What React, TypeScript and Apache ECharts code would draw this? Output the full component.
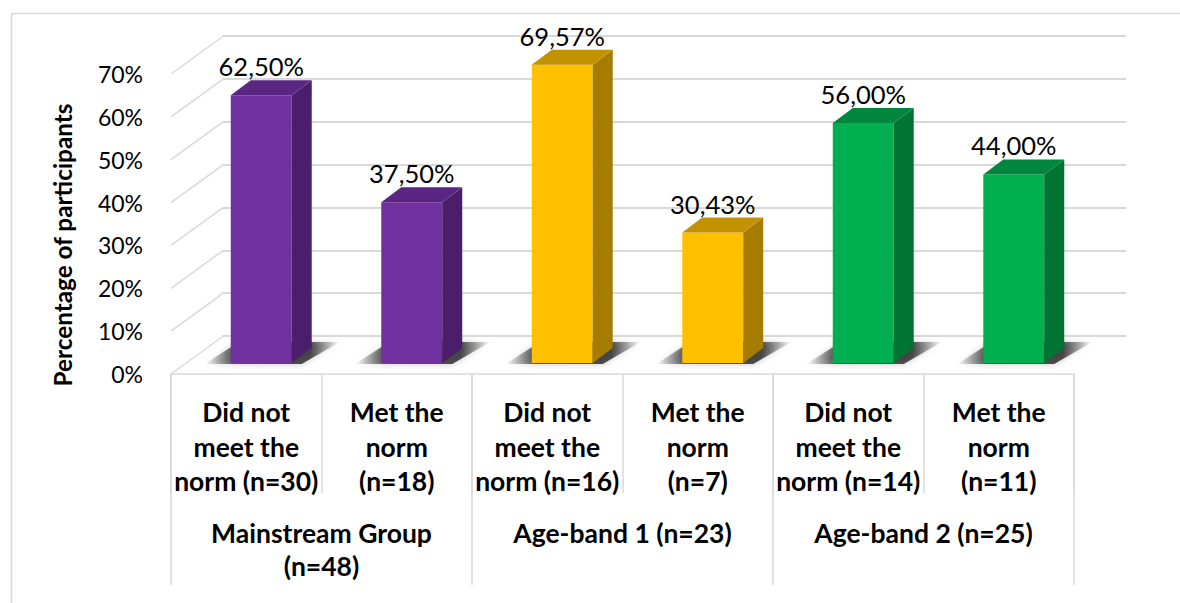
import React, { useEffect, useRef } from "react";
import * as echarts from "echarts";

// ---- data ----
const subCategories = [
  "Did not\nmeet the\nnorm (n=30)",
  "Met the\nnorm\n(n=18)",
  "Did not\nmeet the\nnorm (n=16)",
  "Met the\nnorm\n(n=7)",
  "Did not\nmeet the\nnorm (n=14)",
  "Met the\nnorm\n(n=11)",
];
const groups = ["Mainstream Group\n(n=48)", "Age-band 1 (n=23)", "Age-band 2 (n=25)"];
const percentages = [62.5, 37.5, 69.57, 30.43, 56.0, 44.0];
const groupOfBar = [0, 0, 1, 1, 2, 2];
const axisMax = 70;
const axisStep = 10;
const tickValues = [0, 10, 20, 30, 40, 50, 60, 70];
const yTitle = "Percentage of participants";

// ---- styling ----
const FONT = "Lato, 'Noto Sans', sans-serif";
const GRID_LINE = "#d9d9d9";
const palette = [
  { front: "#7030a0", side: "#4b1e6b", top: "#5b2683" },
  { front: "#ffc000", side: "#a67c00", top: "#c29200" },
  { front: "#00b050", side: "#007533", top: "#00863d" },
];
// offset from the front edge of the floor to the back wall
const WALL_DX = 51;
const WALL_DY = -37;
// depth of each bar
const BAR_DX = 20;
const BAR_DY = -15;
const BAR_RATIO = 0.405;

const fmt = (v: number) => v.toFixed(2).replace(".", ",") + "%";

export default function App() {
  const ref = useRef<HTMLDivElement>(null);

  useEffect(() => {
    if (!ref.current) return;
    const chart = echarts.init(ref.current, undefined, { renderer: "svg" });

    const option: any = {
      animation: false,
      backgroundColor: "#ffffff",
      grid: [
        // back wall
        { left: 222, top: 36, width: 904, height: 300 },
        // front edge of the floor (axis labels, category boxes)
        { left: 171, top: 74, width: 903, height: 300 },
        // plane of the bars' front faces
        { left: 186, top: 63, width: 903, height: 300 },
      ],
      xAxis: [
        { gridIndex: 0, type: "category", data: subCategories, show: false },
        {
          gridIndex: 1,
          type: "category",
          data: subCategories,
          position: "bottom",
          axisLine: { show: true, lineStyle: { color: GRID_LINE, width: 1.5 } },
          axisTick: {
            show: true,
            interval: 0,
            alignWithLabel: false,
            length: 119,
            lineStyle: { color: GRID_LINE, width: 1.5 },
          },
          axisLabel: {
            interval: 0,
            margin: 21,
            fontFamily: FONT,
            fontSize: 26.5,
            fontWeight: "bold",
            lineHeight: 34.5,
            color: "#000000",
          },
        },
        {
          gridIndex: 1,
          type: "category",
          data: groups,
          position: "bottom",
          axisLine: { show: false },
          axisTick: {
            show: true,
            interval: 0,
            alignWithLabel: false,
            length: 211,
            lineStyle: { color: GRID_LINE, width: 1.5 },
          },
          axisLabel: {
            interval: 0,
            margin: 142,
            fontFamily: FONT,
            fontSize: 26.5,
            fontWeight: "bold",
            lineHeight: 33,
            color: "#000000",
          },
        },
        { gridIndex: 2, type: "category", data: subCategories, show: false },
      ],
      yAxis: [
        {
          gridIndex: 0,
          type: "value",
          min: 0,
          max: axisMax,
          interval: axisStep,
          axisLine: { show: false },
          axisTick: { show: false },
          axisLabel: { show: false },
          splitLine: { show: true, lineStyle: { color: GRID_LINE, width: 2 } },
        },
        {
          gridIndex: 1,
          type: "value",
          min: 0,
          max: axisMax,
          interval: axisStep,
          axisLine: { show: false },
          axisTick: { show: false },
          splitLine: { show: false },
          axisLabel: {
            margin: 28,
            formatter: "{value}%",
            fontFamily: FONT,
            fontSize: 23,
            color: "#000000",
          },
        },
        {
          gridIndex: 2,
          type: "value",
          min: 0,
          max: axisMax,
          interval: axisStep,
          show: false,
        },
      ],
      graphic: [
        {
          type: "rect",
          shape: { x: 11.5, y: 13.5, width: 1300, height: 700 },
          style: { fill: "none", stroke: GRID_LINE, lineWidth: 1.5 },
          silent: true,
          z: -10,
        },
        {
          type: "text",
          x: 62,
          y: 245,
          rotation: Math.PI / 2,
          style: {
            text: yTitle,
            align: "center",
            verticalAlign: "middle",
            fontFamily: FONT,
            fontSize: 24.3,
            fontWeight: "bold",
            fill: "#000000",
          },
        },
      ],
      series: [
        // side-wall lines running from the front edge back to the wall
        {
          type: "custom",
          xAxisIndex: 1,
          yAxisIndex: 1,
          clip: false,
          silent: true,
          data: tickValues.map((v) => [0, v]),
          renderItem: (params: any, api: any) => {
            const p = api.coord([0, api.value(1)]);
            const band = api.size([1, 0])[0];
            const x = p[0] - band / 2;
            return {
              type: "line",
              shape: { x1: x, y1: p[1], x2: x + WALL_DX, y2: p[1] + WALL_DY },
              style: { stroke: GRID_LINE, lineWidth: 1.5 },
            };
          },
        },
        // bars drawn as boxes with a cast shadow on the floor
        {
          type: "custom",
          xAxisIndex: 3,
          yAxisIndex: 2,
          clip: false,
          data: percentages.map((v, i) => [i, v]),
          renderItem: (params: any, api: any) => {
            const i = api.value(0);
            const v = api.value(1);
            const base = api.coord([i, 0]);
            const top = api.coord([i, v]);
            const band = api.size([1, 0])[0];
            const w = band * BAR_RATIO;
            const x0 = base[0] - w / 2;
            const x1 = x0 + w;
            const yb = base[1];
            const yt = top[1];
            const c = palette[groupOfBar[i]];
            return {
              type: "group",
              children: [
                {
                  type: "polygon",
                  shape: {
                    points: [
                      [x0 - 26, yb + 1],
                      [x1 + 10, yb + 1],
                      [x1 + 48, yb - 21],
                      [x0 + 8, yb - 21],
                    ],
                  },
                  style: {
                    fill: new echarts.graphic.LinearGradient(0, 0, 1, 0, [
                      { offset: 0, color: "rgba(0,0,0,0)" },
                      { offset: 0.22, color: "rgba(0,0,0,0.62)" },
                      { offset: 0.78, color: "rgba(0,0,0,0.66)" },
                      { offset: 1, color: "rgba(0,0,0,0)" },
                    ]),
                    shadowBlur: 6,
                    shadowColor: "rgba(0,0,0,0.35)",
                  },
                },
                {
                  type: "rect",
                  shape: { x: x0, y: yt, width: w, height: yb - yt },
                  style: { fill: c.front },
                },
                {
                  type: "polygon",
                  shape: {
                    points: [
                      [x1, yb],
                      [x1 + BAR_DX, yb + BAR_DY],
                      [x1 + BAR_DX, yt + BAR_DY],
                      [x1, yt],
                    ],
                  },
                  style: { fill: c.side },
                },
                {
                  type: "polygon",
                  shape: {
                    points: [
                      [x0, yt],
                      [x0 + BAR_DX, yt + BAR_DY],
                      [x1 + BAR_DX, yt + BAR_DY],
                      [x1, yt],
                    ],
                  },
                  style: { fill: c.top },
                },
                {
                  type: "text",
                  style: {
                    text: fmt(v),
                    x: (x0 + x1) / 2,
                    y: yt + BAR_DY - 1,
                    align: "center",
                    verticalAlign: "bottom",
                    fontFamily: FONT,
                    fontSize: 25.5,
                    fill: "#000000",
                  },
                },
              ],
            };
          },
        },
      ],
    };

    chart.setOption(option);
    return () => chart.dispose();
  }, []);

  return (
    <div
      ref={ref}
      style={{ position: "absolute", left: 0, top: 0, width: 1180, height: 603 }}
    />
  );
}
